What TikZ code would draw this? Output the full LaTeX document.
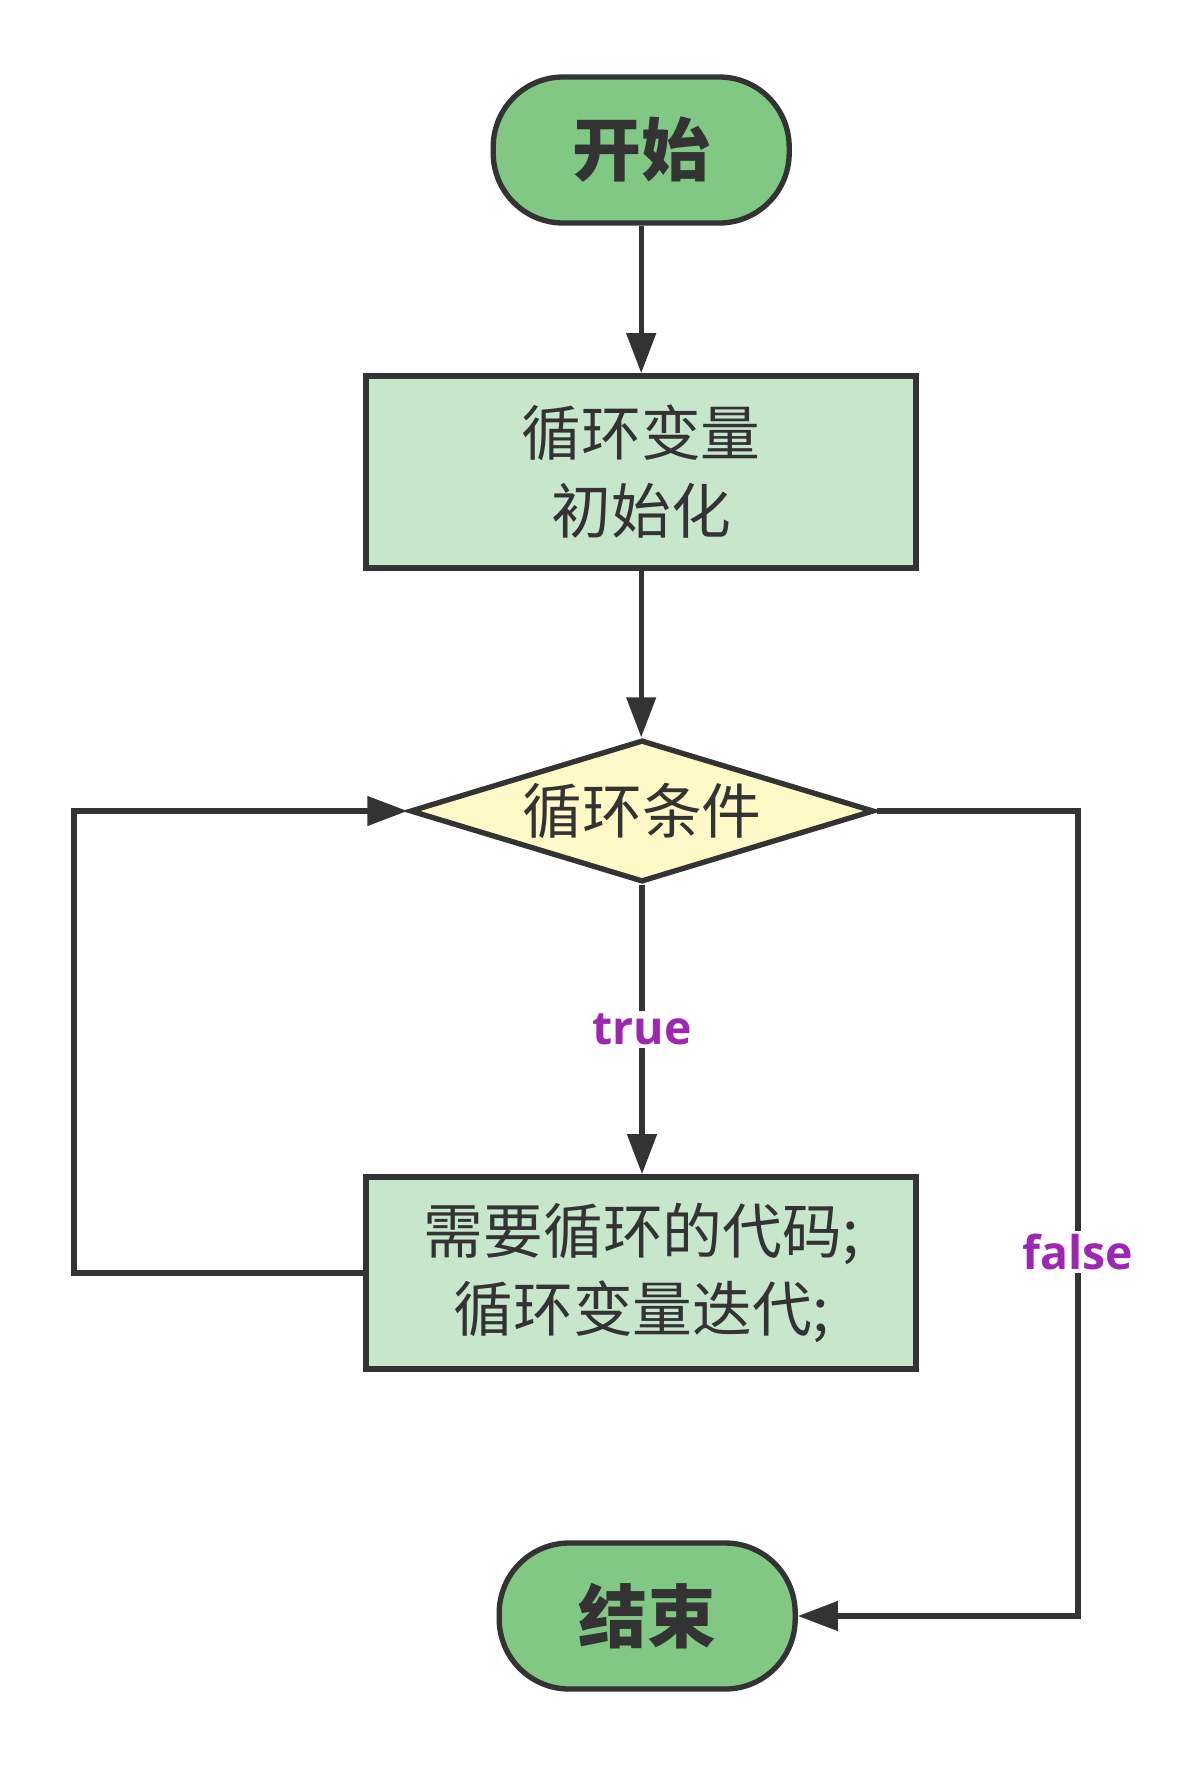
\documentclass[tikz,border=0pt]{standalone}
\usepackage{fontspec}
\setmainfont{Noto Sans CJK SC}
\newfontfamily\labfont{Open Sans}
\usetikzlibrary{positioning,arrows.meta,shapes.geometric}
\definecolor{TermGreen}{RGB}{128,200,132}
\definecolor{ProcGreen}{RGB}{199,230,203}
\definecolor{CondYellow}{RGB}{255,249,199}
\definecolor{LineGray}{RGB}{51,51,51}
\definecolor{LabelPurple}{RGB}{156,39,176}

\begin{document}
\begin{tikzpicture}[every node/.style={align=center, text=LineGray},
    term/.style={draw=LineGray, line width=3.8pt, fill=TermGreen, rounded corners=1.75cm,
        minimum width=7.4cm, minimum height=3.65cm,
        font=\fontsize{49}{58}\selectfont\bfseries},
    procbox/.style={draw=LineGray, line width=4pt, fill=ProcGreen,
        minimum width=13.75cm, minimum height=4.8cm,
        font=\fontsize{42.5}{55.5}\selectfont},
    decision/.style={draw=LineGray, line width=3.8pt, fill=CondYellow, diamond,
        shape aspect=3.2, inner sep=0pt, minimum width=11.6cm, minimum height=3.55cm,
        font=\fontsize{42.5}{55.5}\selectfont},
    flow/.style={draw=LineGray, line width=3.6pt,
        -{Triangle[length=1cm, width=0.72cm]}},
    lab/.style={fill=white, inner sep=2pt, text=LabelPurple,
        font=\labfont\fontsize{33}{40}\selectfont\bfseries}]
  \useasboundingbox (0,0) rectangle (29.475,-44.125);
  \node[term] (start) at (16.03,-3.75) {开始};
  \node[procbox] (init) at (16.03,-11.8) {循环变量\\初始化};
  \node[decision] (cond) at (16.05,-20.275) {循环条件};
  \node[procbox] (body) at (16.03,-31.825) {需要循环的代码;\\循环变量迭代;};
  \node[term] (stop) at (16.18,-40.4) {结束};
  \coordinate (lturn) at (1.85,-20.275);
  \coordinate (rturn) at (26.95,-40.4);
  \draw[flow] (start) -- (init);
  \draw[flow] (init) -- (init |- cond.north);
  \draw[flow] (cond.south) -- (cond.south |- body.north) node[midway, lab] {true};
  \draw[flow] (body.west) -| (lturn) -- (cond.west);
  \draw[flow] (cond.east) -| (rturn) node[pos=0.774, lab] {false} -- (stop.east);
\end{tikzpicture}
\end{document}
